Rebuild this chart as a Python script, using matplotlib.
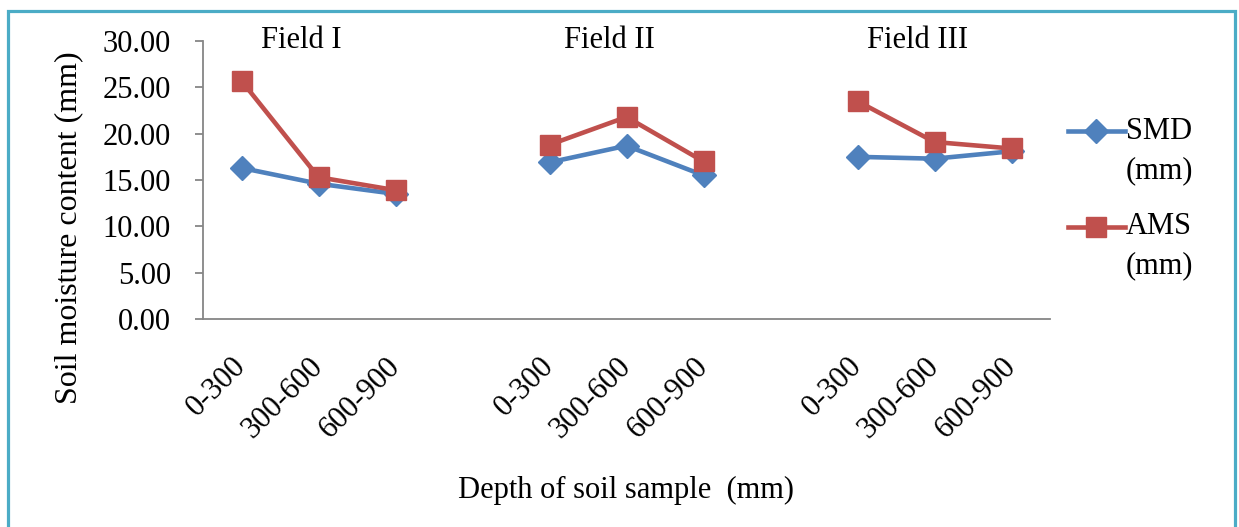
import numpy as np
import matplotlib
matplotlib.use("Agg")
import matplotlib.pyplot as plt
from matplotlib.patches import Rectangle
from matplotlib.legend_handler import HandlerLine2D

# ---- data ----
categories = ["0-300", "300-600", "600-900", "",
              "0-300", "300-600", "600-900", "",
              "0-300", "300-600", "600-900"]
fields = ["Field I", "Field II", "Field III"]
smd = [16.3, 14.6, 13.5, np.nan, 16.9, 18.7, 15.5, np.nan, 17.5, 17.3, 18.1]
ams = [25.7, 15.3, 13.9, np.nan, 18.8, 21.8, 17.0, np.nan, 23.5, 19.1, 18.4]
yticks = [0, 5, 10, 15, 20, 25, 30]

W, H = 1239, 527
plt.rcParams['font.family'] = ['Liberation Serif', 'DejaVu Serif']
fs = 22

fig = plt.figure(figsize=(W / 100, H / 100), dpi=100)
ax = fig.add_axes([203 / W, 1 - 319 / H, (1050 - 203) / W, (319 - 41) / H])

x = np.arange(len(categories))
blue = '#4F81BD'
red = '#C0504D'
ax.plot(x, smd, color=blue, lw=3.3, marker='D', markersize=12,
        label='SMD\n(mm)', zorder=3)
ax.plot(x, ams, color=red, lw=3.3, marker='s', markersize=14.5,
        label='AMS\n(mm)', zorder=4)

ax.set_xlim(-0.5, len(categories) - 0.5)
ax.set_ylim(0, 30)
ax.set_yticks(yticks)
ax.set_yticklabels([f"{v:.2f}" for v in yticks], fontsize=fs)
ax.set_xticks(x)
ax.set_xticklabels(categories, fontsize=fs, rotation=45, ha='right',
                   va='center', rotation_mode='anchor')

for s in ['top', 'right']:
    ax.spines[s].set_visible(False)
for s in ['left', 'bottom']:
    ax.spines[s].set_color('#868686')
    ax.spines[s].set_linewidth(1.3)
ax.tick_params(axis='y', length=6, width=1.3, color='#868686', pad=17)
ax.tick_params(axis='x', length=0, pad=31)

ax.set_ylabel("Soil moisture content (mm)", fontsize=23, va='center')
ax.yaxis.set_label_coords(-0.158, 0.327)
ax.set_xlabel("Depth of soil sample  (mm)", fontsize=fs, va='center')
ax.xaxis.set_label_coords(0.5, -0.615)

# field titles above each group
group_centers = [1, 5, 9]
for name, gc in zip(fields, group_centers):
    ax.text(gc - 0.22, 30.1, name, fontsize=fs, ha='center', va='center')


class TopHandler(HandlerLine2D):
    def create_artists(self, legend, orig_handle, xdescent, ydescent,
                       width, height, fontsize, trans):
        arts = super().create_artists(legend, orig_handle, xdescent, ydescent,
                                      width, height, fontsize, trans)
        for a in arts:
            a.set_ydata([yy + 14.5 for yy in a.get_ydata()])
        return arts


leg = ax.legend(loc='upper left', bbox_to_anchor=(1068 / W, 1 - 117 / H),
                bbox_transform=fig.transFigure, frameon=False, fontsize=fs,
                handlelength=1.85, handletextpad=0.05, labelspacing=0.9,
                borderpad=0, borderaxespad=0,
                handler_map={plt.Line2D: TopHandler()})
for t in leg.get_texts():
    t.set_linespacing(1.45)

fig.add_artist(Rectangle((8 / W, -0.05), (1235 - 8) / W, 1.05 - 11 / H,
                         transform=fig.transFigure, fill=False,
                         edgecolor='#4BACC6', lw=2.3))

fig.savefig("out.png", dpi=100)
